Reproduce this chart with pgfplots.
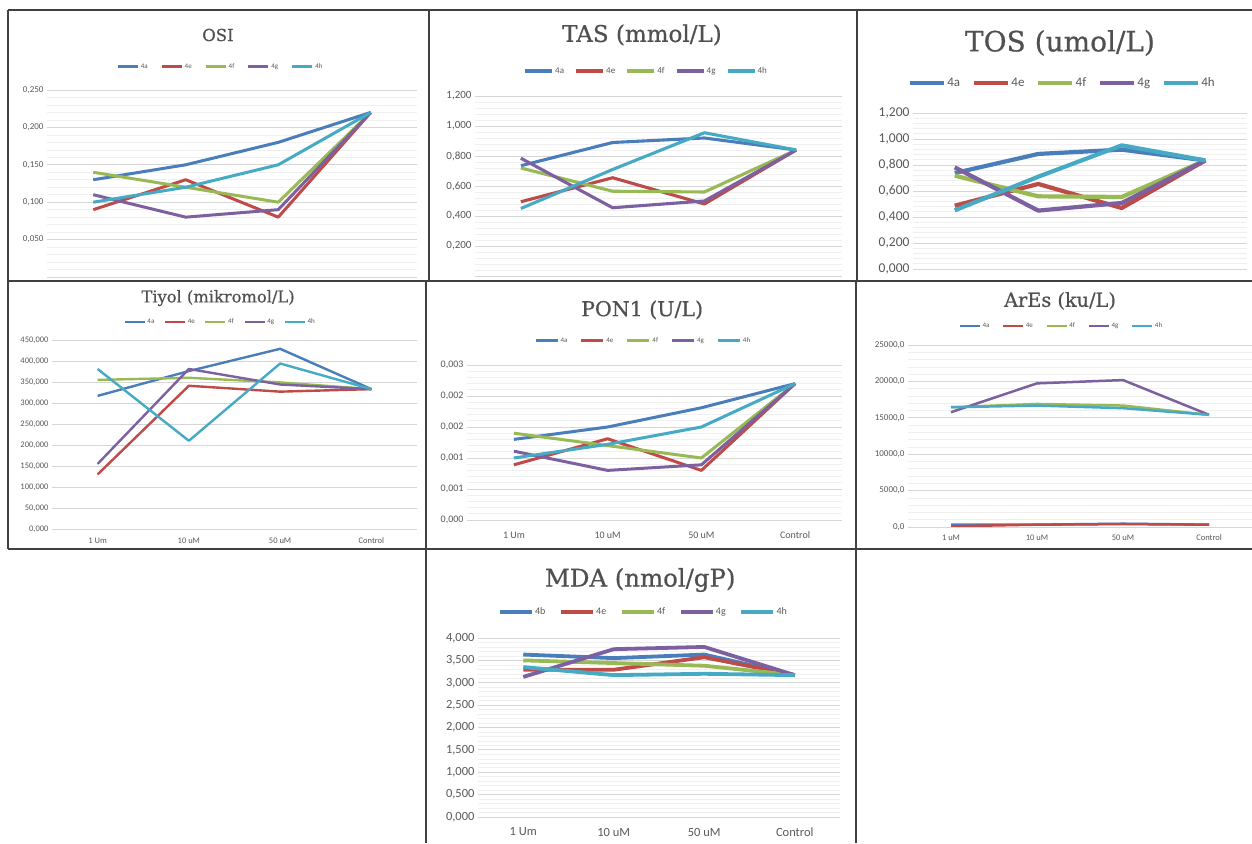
\documentclass[border=0pt]{standalone}
\usepackage{pgfplots}
\pgfplotsset{compat=1.18}
\usepackage{pgfplotstable}
\usepackage{fontspec}
\setmainfont{Carlito}
\newfontfamily\titlefont[FakeBold=0.6]{DejaVu Serif}
\definecolor{sa}{HTML}{4A7EBB}
\definecolor{se}{HTML}{BE4B48}
\definecolor{sf}{HTML}{98B954}
\definecolor{sg}{HTML}{7D60A0}
\definecolor{sh}{HTML}{46AAC5}
\definecolor{txtgray}{HTML}{595959}
\definecolor{titlegray}{HTML}{505050}
\definecolor{framec}{HTML}{404040}

\newcommand{\fs}[1]{\fontsize{#1}{#1}\selectfont}

\pgfplotsset{
  excel/.style={
    scale only axis, anchor=south west,
    xmin=-0.5, xmax=3.5, xtick={0,1,2,3},
    axis line style={draw=none}, tick style={draw=none},
    major tick length=0pt, minor tick length=0pt,
    ymajorgrids, yminorgrids,
    major grid style={draw=black!16, line width=0.8pt},
    minor grid style={draw=black!6, line width=0.6pt},
    scaled y ticks=false,
    legend columns=5,
    legend style={draw=none, fill=none, anchor=center, text=txtgray, nodes={inner sep=1.5pt}},
    tick label style={text=txtgray},
    xticklabel style={anchor=center},
    every axis title shift=0pt,
    title style={text=titlegray, anchor=center},
    no marks,
    every axis plot/.append style={line join=round},
    cycle list={{sa},{se},{sf},{sg},{sh}},
  }
}

\pgfplotstableread{
x a e f g h
0 0.13 0.09 0.14 0.11 0.10
1 0.15 0.13 0.12 0.08 0.12
2 0.18 0.08 0.10 0.09 0.15
3 0.22 0.22 0.22 0.22 0.22
}\osi
\pgfplotstableread{
x a e f g h
0 0.735 0.495 0.72 0.785 0.45
1 0.89 0.655 0.565 0.455 0.71
2 0.92 0.48 0.56 0.50 0.955
3 0.84 0.84 0.84 0.84 0.84
}\tas
\pgfplotstableread{
x a e f g h
0 0.738 0.487 0.718 0.782 0.451
1 0.885 0.654 0.559 0.449 0.71
2 0.918 0.469 0.554 0.508 0.951
3 0.835 0.835 0.835 0.835 0.835
}\tos
\pgfplotstableread{
x a e f g h
0 317 130 355 155 381
1 376 341 360 381 210
2 429 327 349 344 394
3 333 333 333 333 333
}\tiyol
\pgfplotstableread{
x a e f g h
0 0.00130 0.00089 0.00140 0.00111 0.00100
1 0.00150 0.00131 0.00120 0.00080 0.00122
2 0.00181 0.00080 0.00100 0.00089 0.00150
3 0.00220 0.00220 0.00220 0.00220 0.00220
}\pon
\pgfplotstableread{
x a e f g h
0 320 100 16450 15770 16450
1 320 320 16900 19730 16680
2 450 400 16680 20180 16320
3 320 320 15410 15410 15410
}\ares
\pgfplotstableread{
x b e f g h
0 3.63 3.29 3.50 3.13 3.35
1 3.55 3.29 3.44 3.75 3.17
2 3.63 3.57 3.38 3.80 3.20
3 3.17 3.17 3.17 3.17 3.17
}\mda

\begin{document}
\begin{tikzpicture}
\useasboundingbox (0pt,0pt) rectangle (1252pt,843pt);
\fill[white] (0pt,0pt) rectangle (1252pt,843pt);

% OSI
\begin{axis}[excel, at={(47pt,566pt)}, width=370pt, height=187pt,
  ymin=0, ymax=0.25, ytick={0,0.05,...,0.25}, minor y tick num=4,
  yticklabels={{},{0,050},{0,100},{0,150},{0,200},{0,250}},
  xticklabels={},
  yticklabel style={font=\fs{9}},
  title={\titlefont\fs{16.5}OSI}, title style={at={(0.462,1.294)}},
  legend style={at={(0.468,1.123)}, font=\fs{7}, /tikz/every even column/.append style={column sep=11pt}},
  legend image code/.code={\draw[#1] (0pt,0pt) -- (20pt,0pt);},
  every axis plot/.append style={line width=3pt}]
\addplot table[x=x,y=a]{\osi}; \addlegendentry{4a}
\addplot table[x=x,y=e]{\osi}; \addlegendentry{4e}
\addplot table[x=x,y=f]{\osi}; \addlegendentry{4f}
\addplot table[x=x,y=g]{\osi}; \addlegendentry{4g}
\addplot table[x=x,y=h]{\osi}; \addlegendentry{4h}
\end{axis}

% TAS
\begin{axis}[excel, at={(475pt,567pt)}, width=367pt, height=180pt,
  ymin=0, ymax=1.2, ytick={0,0.2,...,1.2}, minor y tick num=4,
  yticklabels={{},{0,200},{0,400},{0,600},{0,800},{1,000},{1,200}},
  xticklabels={},
  yticklabel style={font=\fs{11}},
  title={\titlefont\fs{23}TAS (mmol/L)}, title style={at={(0.455,1.339)}},
  legend style={at={(0.466,1.139)}, font=\fs{9}, /tikz/every even column/.append style={column sep=9pt}},
  legend image code/.code={\draw[#1] (0pt,0pt) -- (27pt,0pt);},
  every axis plot/.append style={line width=3.1pt}]
\addplot table[x=x,y=a]{\tas}; \addlegendentry{4a}
\addplot table[x=x,y=e]{\tas}; \addlegendentry{4e}
\addplot table[x=x,y=f]{\tas}; \addlegendentry{4f}
\addplot table[x=x,y=g]{\tas}; \addlegendentry{4g}
\addplot table[x=x,y=h]{\tas}; \addlegendentry{4h}
\end{axis}

% TOS
\begin{axis}[excel, at={(913pt,574pt)}, width=334pt, height=156pt,
  ymin=0, ymax=1.2, ytick={0,0.2,...,1.2}, minor y tick num=4,
  yticklabels={{0,000},{0,200},{0,400},{0,600},{0,800},{1,000},{1,200}},
  xticklabels={},
  yticklabel style={font=\fs{13.5}},
  title={\titlefont\fs{28}TOS (umol/L)}, title style={at={(0.440,1.449)}},
  legend style={at={(0.446,1.192)}, font=\fs{13}, /tikz/every even column/.append style={column sep=10pt}},
  legend image code/.code={\draw[#1] (0pt,0pt) -- (34pt,0pt);},
  every axis plot/.append style={line width=4.2pt}]
\addplot table[x=x,y=a]{\tos}; \addlegendentry{4a}
\addplot table[x=x,y=e]{\tos}; \addlegendentry{4e}
\addplot table[x=x,y=f]{\tos}; \addlegendentry{4f}
\addplot table[x=x,y=g]{\tos}; \addlegendentry{4g}
\addplot table[x=x,y=h]{\tos}; \addlegendentry{4h}
\end{axis}

% Tiyol
\begin{axis}[excel, at={(52pt,314pt)}, width=365pt, height=189pt,
  ymin=0, ymax=450, ytick={0,50,...,450}, minor y tick num=0,
  yticklabels={{0,000},{50,000},{100,000},{150,000},{200,000},{250,000},{300,000},{350,000},{400,000},{450,000}},
  xticklabels={1 Um,10 uM,50 uM,Control},
  xticklabel style={font=\fs{8.5}, yshift=-12pt},
  yticklabel style={font=\fs{8.5}},
  title={\titlefont\fs{16.3}Tiyol (mikromol/L)}, title style={at={(0.455,1.222)}},
  legend style={at={(0.460,1.095)}, font=\fs{7}, /tikz/every even column/.append style={column sep=8pt}},
  legend image code/.code={\draw[#1] (0pt,0pt) -- (20pt,0pt);},
  every axis plot/.append style={line width=2.4pt}]
\addplot table[x=x,y=a]{\tiyol}; \addlegendentry{4a}
\addplot table[x=x,y=e]{\tiyol}; \addlegendentry{4e}
\addplot table[x=x,y=f]{\tiyol}; \addlegendentry{4f}
\addplot table[x=x,y=g]{\tiyol}; \addlegendentry{4g}
\addplot table[x=x,y=h]{\tiyol}; \addlegendentry{4h}
\end{axis}

% PON1
\begin{axis}[excel, at={(467pt,323pt)}, width=375pt, height=155pt,
  ymin=0, ymax=0.0025, ytick={0,0.0005,0.001,0.0015,0.002,0.0025}, minor y tick num=4,
  yticklabels={{0,000},{0,001},{0,001},{0,002},{0,002},{0,003}},
  xticklabels={1 Um,10 uM,50 uM,Control},
  xticklabel style={font=\fs{10}, yshift=-15pt},
  yticklabel style={font=\fs{10}},
  title={\titlefont\fs{20.5}PON1 (U/L)}, title style={at={(0.467,1.355)}},
  legend style={at={(0.469,1.155)}, font=\fs{7}, /tikz/every even column/.append style={column sep=11pt}},
  legend image code/.code={\draw[#1] (0pt,0pt) -- (22pt,0pt);},
  every axis plot/.append style={line width=3pt}]
\addplot table[x=x,y=a]{\pon}; \addlegendentry{4a}
\addplot table[x=x,y=e]{\pon}; \addlegendentry{4e}
\addplot table[x=x,y=f]{\pon}; \addlegendentry{4f}
\addplot table[x=x,y=g]{\pon}; \addlegendentry{4g}
\addplot table[x=x,y=h]{\pon}; \addlegendentry{4h}
\end{axis}

% ArEs
\begin{axis}[excel, at={(908pt,316pt)}, width=344pt, height=182pt,
  ymin=0, ymax=25000, ytick={0,5000,...,25000}, minor y tick num=4,
  yticklabels={{0,0},{5000,0},{10000,0},{15000,0},{20000,0},{25000,0}},
  xticklabels={1 uM,10 uM,50 uM,Control},
  xticklabel style={font=\fs{8.5}, yshift=-11pt},
  yticklabel style={font=\fs{9}},
  title={\titlefont\fs{19.3}ArEs (ku/L)}, title style={at={(0.442,1.242)}},
  legend style={at={(0.445,1.104)}, font=\fs{7}, /tikz/every even column/.append style={column sep=11pt}},
  legend image code/.code={\draw[#1] (0pt,0pt) -- (20pt,0pt);},
  every axis plot/.append style={line width=2.5pt}]
\addplot table[x=x,y=a]{\ares}; \addlegendentry{4a}
\addplot table[x=x,y=e]{\ares}; \addlegendentry{4e}
\addplot table[x=x,y=f]{\ares}; \addlegendentry{4f}
\addplot table[x=x,y=g]{\ares}; \addlegendentry{4g}
\addplot table[x=x,y=h]{\ares}; \addlegendentry{4h}
\end{axis}

% MDA
\begin{axis}[excel, at={(478pt,26pt)}, width=362pt, height=179pt,
  ymin=0, ymax=4, ytick={0,0.5,...,4}, minor y tick num=4,
  yticklabels={{0,000},{0,500},{1,000},{1,500},{2,000},{2,500},{3,000},{3,500},{4,000}},
  xticklabels={1 Um,10 uM,50 uM,Control},
  xticklabel style={font=\fs{12.5}, yshift=-15pt},
  yticklabel style={font=\fs{12.5}},
  title={\titlefont\fs{24.4}MDA (nmol/gP)}, title style={at={(0.448,1.324)}},
  legend style={at={(0.456,1.145)}, font=\fs{10}, /tikz/every even column/.append style={column sep=12pt}},
  legend image code/.code={\draw[#1] (0pt,0pt) -- (32pt,0pt);},
  every axis plot/.append style={line width=3.8pt}]
\addplot table[x=x,y=b]{\mda}; \addlegendentry{4b}
\addplot table[x=x,y=e]{\mda}; \addlegendentry{4e}
\addplot table[x=x,y=f]{\mda}; \addlegendentry{4f}
\addplot table[x=x,y=g]{\mda}; \addlegendentry{4g}
\addplot table[x=x,y=h]{\mda}; \addlegendentry{4h}
\end{axis}

% panel frames
\begin{scope}[draw=framec, line width=1.5pt]
\draw (8pt,833pt) -- (1252pt,833pt);
\draw (8pt,562pt) -- (1252pt,562pt);
\draw (8pt,294pt) -- (1252pt,294pt);
\draw (8pt,833pt) -- (8pt,294pt);
\draw[line width=2.2pt] (429pt,833pt) -- (429pt,562pt);
\draw[line width=2.2pt] (857pt,833pt) -- (857pt,562pt);
\draw (426pt,562pt) -- (426pt,0pt);
\draw (856pt,562pt) -- (856pt,0pt);
\end{scope}
\end{tikzpicture}
\end{document}
